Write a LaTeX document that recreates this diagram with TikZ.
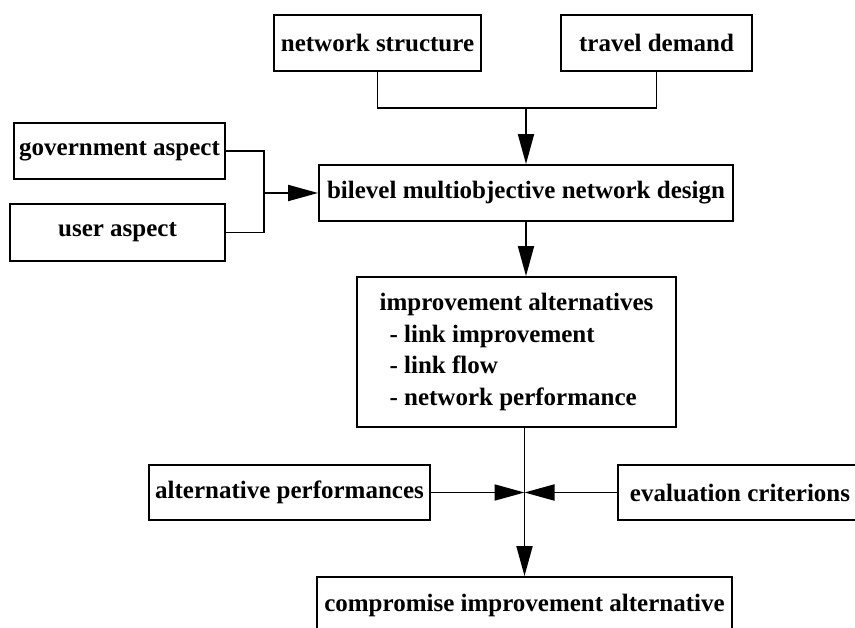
\documentclass[tikz,border=0pt]{standalone}
\usepackage{fontspec}
\setmainfont{Liberation Serif}
\usetikzlibrary{arrows.meta,positioning,calc}

\begin{document}
\begin{tikzpicture}[x=1pt, y=-1pt,
      box/.style={draw, line width=1.9pt, inner sep=0pt, minimum height=56pt,
                  font=\fontsize{25}{31.5}\selectfont\bfseries},
      conn/.style={line width=1.9pt},
      arr/.style={conn, -{Triangle[length=30pt,width=16pt]}}]
    \useasboundingbox (0,0) rectangle (855,628);
    \node[box, minimum width=207pt] (ns) at (377.5,43) {network structure};
    \node[box, minimum width=191pt] (td) at (656.5,43) {travel demand};
    \node[box, minimum width=211pt] (gov) at (119.5,151) {government aspect};
    \node[box, minimum width=215pt, minimum height=57pt] (usr) at (117.5,232.5) {user aspect};
    \node[box, minimum width=414pt] (bmnd) at (526,193) {bilevel multiobjective network design};
    \node[box, minimum width=319pt, minimum height=150pt, align=left] (impr) at (516.5,352)
      {improvement alternatives\\\hspace*{10pt}- link improvement\\\hspace*{10pt}- link flow\\\hspace*{10pt}- network performance};
    \node[box, minimum width=281pt, minimum height=55pt] (alt) at (289.5,492.5) {alternative performances};
    \node[box, minimum width=244pt, minimum height=55pt] (eval) at (740,492.5) {evaluation criterions};
    \node[box, minimum width=415pt] (comp) at (524.5,605) {compromise improvement alternative};
    \coordinate (top) at (526,108);
    \coordinate (lbus) at (264,193);
    \coordinate (joint) at (524.5,492.5);
    \draw[conn] (ns.south) |- (top) -| (td.south);
    \draw[arr] (top) -- (bmnd.north);
    \draw[conn] (gov.east) -| (lbus) |- (usr.east);
    \draw[arr] (lbus) -- (bmnd.west);
    \draw[arr] (bmnd.south) -- (bmnd.south |- impr.north);
    \draw[conn] (impr.south -| joint) -- (joint);
    \draw[arr] (joint) -- (comp.north);
    \draw[arr] (alt.east) -- (joint); \draw[arr] (eval.west) -- (joint);
  \end{tikzpicture}
\end{document}
